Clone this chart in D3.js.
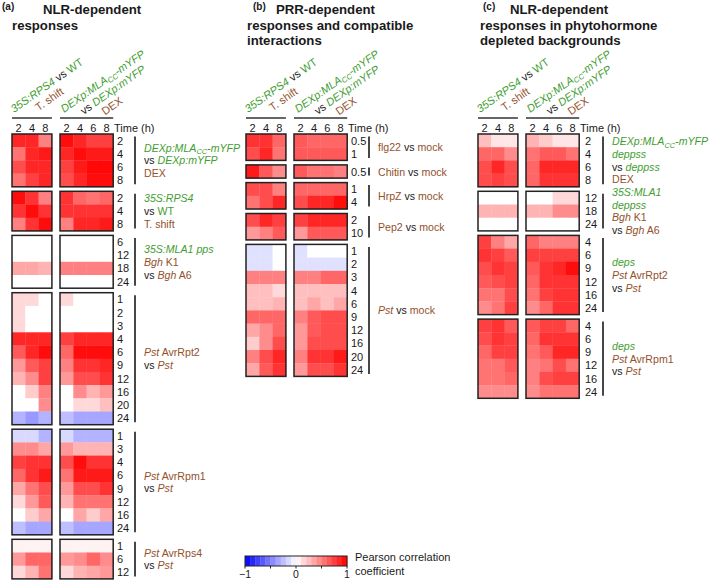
<!DOCTYPE html>
<html><head><meta charset="utf-8">
<script src="https://cdn.jsdelivr.net/npm/d3@7"></script>
<style>body{margin:0;background:#fff} text{font-family:"Liberation Sans",Arial,sans-serif;white-space:pre}</style>
</head><body><svg id="c" width="709" height="580"></svg>
<script>
const GREEN="#3f9d31", BROWN="#93512c", BLACK="#1a1a1a";
const timesLeft=["2","4","8"], timesRight=["2","4","6","8"];

// ---------- Panel (a) ----------
const aRows=[["2","4","6","8"],["2","4","8"],["6","12","18","24"],["1","2","3","4","6","9","12","16","20","24"],["1","3","4","6","9","12","16","24"],["1","6","12"]];
const aLeft=[
 [[0.85,0.85,0.5],[0.55,0.85,0.9],[0.7,0.85,0.85],[0.55,0.75,0.85]],
 [[0.95,0.8,0.5],[0.8,0.95,0.8],[0.5,0.8,0.95]],
 [[0,0,0],[0,0,0],[0.35,0.35,0.3],[0,0,0]],
 [[0.15,0.15,0],[0.15,0,0],[0.15,0,0],[0.85,0.85,0.85],[0.65,0.85,0.95],[0.4,0.65,0.75],[0.3,0.45,0.75],[0,0.2,0.5],[0,0,0.45],[-0.3,-0.4,-0.3]],
 [[-0.15,-0.15,-0.3],[0.45,0.45,0.35],[0.75,0.8,0.8],[0.6,0.8,0.9],[0.35,0.55,0.7],[0.15,0.4,0.65],[0,0.2,0.35],[-0.25,-0.35,-0.35]],
 [[0.05,0.05,0.05],[0.4,0.6,0.6],[0.15,0.3,0.55]]
];
const aRight=[
 [[0.95,0.85,0.75,0.75],[0.85,0.95,0.9,0.9],[0.75,0.9,0.97,0.97],[0.7,0.85,0.95,0.95]],
 [[0.8,0.6,0.55,0.6],[0.8,0.8,0.8,0.8],[0.5,0.85,0.85,0.9]],
 [[0,0,0,0],[0,0,0,0],[0.5,0.5,0.5,0.5],[0,0,0,0]],
 [[0.15,0,0,0],[0,0,0,0],[0,0,0,0],[0.75,0.85,0.85,0.85],[0.6,0.95,0.95,0.95],[0.5,0.8,0.8,0.85],[0.4,0.7,0.7,0.8],[0,0.45,0.3,0.4],[0,0.15,0.15,0.25],[-0.25,-0.35,-0.35,-0.35]],
 [[-0.15,-0.3,-0.3,-0.3],[0.4,0.3,0.3,0.3],[0.7,0.95,0.8,0.8],[0.55,0.9,0.9,0.9],[0.4,0.7,0.7,0.8],[0.3,0.55,0.55,0.55],[0,0.35,0.2,0.35],[-0.25,-0.35,-0.35,-0.35]],
 [[0.05,0.05,0.05,0.05],[0.4,0.45,0.6,0.45],[0.15,0.3,0.35,0.4]]
];
const aLabels=[
 [[["DEXp:MLA","gi"],["CC","gis"],["-mYFP","gi"]],[["vs ","k"],["DEXp:mYFP","gi"]],[["DEX","b"]]],
 [[["35S:RPS4","gi"]],[["vs ","k"],["WT","g"]],[["T. shift","b"]]],
 [[["35S:MLA1 pps","gi"]],[["Bgh","bi"],[" K1","b"]],[["vs ","k"],["Bgh","bi"],[" A6","b"]]],
 [[["Pst","bi"],[" AvrRpt2","b"]],[["vs ","k"],["Pst","bi"]]],
 [[["Pst","bi"],[" AvrRpm1","b"]],[["vs ","k"],["Pst","bi"]]],
 [[["Pst","bi"],[" AvrRps4","b"]],[["vs ","k"],["Pst","bi"]]]
];

// ---------- Panel (b) ----------
const bRows=[["0.5","1"],["0.5"],["1","4"],["2","10"],["1","2","3","4","6","9","12","16","20","24"]];
const bLeft=[
 [[0.8,0.8,0.6],[0.7,0.85,0.55]],
 [[0.9,0.65,0.45]],
 [[0.7,0.7,0.5],[0.55,0.7,0.85]],
 [[0.7,0.85,0.75],[0.4,0.5,0.65]],
 [[-0.12,-0.12,0],[-0.12,-0.12,0],[0.5,0.5,0.5],[0.25,0.25,0.15],[0.25,0.25,0.3],[0.6,0.6,0.6],[0.35,0.45,0.6],[0.2,0.45,0.7],[0.5,0.7,0.85],[0.35,0.65,0.8]]
];
const bRight=[
 [[0.65,0.6,0.6,0.6],[0.65,0.65,0.65,0.65]],
 [[0.65,0.55,0.55,0.5]],
 [[0.6,0.6,0.6,0.6],[0.7,0.85,0.85,0.95]],
 [[0.75,0.85,0.85,0.85],[0.4,0.65,0.65,0.65]],
 [[-0.12,0,0,0],[-0.12,-0.12,-0.12,-0.12],[0.5,0.5,0.6,0.6],[0.25,0.25,0.25,0.25],[0.25,0.35,0.25,0.35],[0.5,0.65,0.7,0.7],[0.4,0.65,0.7,0.7],[0.4,0.7,0.7,0.7],[0.5,0.8,0.8,0.9],[0.4,0.7,0.7,0.8]]
];
const bLabels=[
 [[["flg22","b"],[" vs ","k"],["mock","b"]]],
 [[["Chitin","b"],[" vs ","k"],["mock","b"]]],
 [[["HrpZ","b"],[" vs ","k"],["mock","b"]]],
 [[["Pep2","b"],[" vs ","k"],["mock","b"]]],
 [[["Pst","bi"],[" vs ","k"],["mock","b"]]]
];

// ---------- Panel (c) ----------
const cRows=[["2","4","6","8"],["12","18","24"],["4","6","9","12","16","24"],["4","6","9","12","16","24"]];
const cLeft=[
 [[0.25,0.1,0.1],[0.6,0.6,0.45],[0.7,0.85,0.7],[0.7,0.75,0.7]],
 [[0,0,0],[0.3,0.3,0.3],[0,0,0]],
 [[0.75,0.5,0.35],[0.8,0.75,0.65],[0.7,0.8,0.75],[0.65,0.7,0.75],[0.55,0.55,0.7],[0.45,0.55,0.75]],
 [[0.75,0.8,0.65],[0.7,0.8,0.75],[0.6,0.75,0.75],[0.55,0.55,0.65],[0.55,0.55,0.6],[0.45,0.45,0.45]]
];
const cRight=[
 [[0.3,0.2,0.1,0.1],[0.55,0.65,0.65,0.55],[0.6,0.85,0.85,0.85],[0.6,0.8,0.8,0.8]],
 [[0,0,0.15,0.15],[0.3,0.3,0.45,0.45],[0,0,0,0]],
 [[0.6,0.5,0.5,0.5],[0.75,0.75,0.75,0.75],[0.65,0.8,0.85,0.95],[0.6,0.8,0.8,0.8],[0.55,0.75,0.8,0.8],[0.45,0.6,0.8,0.8]],
 [[0.65,0.75,0.75,0.6],[0.6,0.8,0.8,0.8],[0.55,0.65,0.85,0.85],[0.5,0.55,0.7,0.55],[0.5,0.7,0.75,0.75],[0.45,0.55,0.55,0.55]]
];
const cLabels=[
 [[["DEXp:MLA","gi"],["CC","gis"],["-mYFP","gi"]],[["deppss","gi"]],[["vs ","k"],["deppss","gi"]],[["DEX","b"]]],
 [[["35S:MLA1","gi"]],[["deppss","gi"]],[["Bgh","bi"],[" K1","b"]],[["vs ","k"],["Bgh","bi"],[" A6","b"]]],
 [[["deps","gi"]],[["Pst","bi"],[" AvrRpt2","b"]],[["vs ","k"],["Pst","bi"]]],
 [[["deps","gi"]],[["Pst","bi"],[" AvrRpm1","b"]],[["vs ","k"],["Pst","bi"]]]
];

// header labels over the two heatmap columns
const headerLeft=[[["35S:RPS4","gi"],[" vs ","k"],["WT","g"]],[["T. shift","b"]]];
const headerRight=[[["DEXp:MLA","gi"],["CC","gis"],["-mYFP","gi"]],[["vs ","k"],["DEXp:mYFP","gi"]],[["DEX","b"]]];
const legendTicks=[-1,0,1];

const panels=[
 {x0:12, rl:105, tag:"(a)", tagX:2, title:["NLR-dependent","responses"], titleX:[43,12], rows:aRows, L:aLeft, R:aRight, labels:aLabels},
 {x0:246, rl:105, tag:"(b)", tagX:253, title:["PRR-dependent","responses and compatible","interactions"], titleX:[276,247,247], rows:bRows, L:bLeft, R:bRight, labels:bLabels},
 {x0:478, rl:107, tag:"(c)", tagX:483, title:["NLR-dependent","responses in phytohormone","depleted backgrounds"], titleX:[510,480,480], rows:cRows, L:cLeft, R:cRight, labels:cLabels}
];

const svg=d3.select("#c");
const color=d3.scaleLinear().domain([-1,0,1]).range(["#0000ff","#ffffff","#ff0000"]);
const STY={g:GREEN,b:BROWN,k:BLACK};
const rowH=13.2, gapY=4.5, cellW=13.3, topY=134, rightOff=48;

function rich(sel, segs){
  let prevSub=false;
  segs.forEach(([t,s])=>{
    const ts=sel.append("tspan").text(t).attr("fill",STY[s[0]]);
    if(s.includes("i")) ts.attr("font-style","italic");
    const sub=s.includes("s");
    if(sub){ ts.attr("font-size","0.7em").attr("dy",2.2); }
    else if(prevSub){ ts.attr("dy",-2.2); }
    prevSub=sub;
  });
}

panels.forEach(p=>{
  const g=svg.append("g");
  g.append("text").attr("x",p.tagX).attr("y",10).attr("font-size",10).attr("font-weight","bold").attr("fill",BLACK).text(p.tag);
  p.title.forEach((t,i)=>g.append("text").attr("x",p.titleX[i]).attr("y",14+i*15.5).attr("font-size",13.2).attr("font-weight","bold").attr("fill",BLACK).text(t));

  const xL=d3.scaleBand().domain(timesLeft).range([p.x0,p.x0+3*cellW]);
  const xR=d3.scaleBand().domain(timesRight).range([p.x0+rightOff,p.x0+rightOff+4*cellW]);

  [[xL,headerLeft,[0,21],2],[xR,headerRight,[0,15,32],4]].forEach(([xs,lines,ind,dx])=>{
    const r=xs.range();
    g.append("line").attr("x1",r[0]).attr("x2",r[1]).attr("y1",118).attr("y2",118).attr("stroke","#333").attr("stroke-width",1.5);
    const hg=g.append("g").attr("transform",`translate(${r[0]+dx},113) rotate(-35)`);
    lines.forEach((segs,i)=>{
      const t=hg.append("text").attr("x",ind[i]).attr("y",i*12.8).attr("font-size",11);
      rich(t,segs);
    });
    g.selectAll(null).data(xs.domain()).join("text")
      .attr("x",d=>xs(d)+xs.bandwidth()/2).attr("y",132).attr("text-anchor","middle")
      .attr("font-size",11).attr("fill",BLACK).text(d=>d);
  });
  g.append("text").attr("x",p.x0+102).attr("y",132).attr("font-size",11).attr("fill",BLACK).text("Time (h)");

  let y=topY;
  p.rows.forEach((rows,bi)=>{
    const h=rows.length*rowH;
    const ys=d3.scaleBand().domain(rows).range([y,y+h]);
    [[xL,p.L[bi],timesLeft],[xR,p.R[bi],timesRight]].forEach(([xs,vals,cols])=>{
      const cells=[];
      rows.forEach((r,ri)=>cols.forEach((c,ci)=>cells.push({r,c,v:vals[ri][ci]})));
      g.append("g").selectAll("rect").data(cells).join("rect")
        .attr("x",d=>xs(d.c)).attr("y",d=>ys(d.r))
        .attr("width",xs.bandwidth()+0.3).attr("height",ys.bandwidth()+0.3)
        .attr("fill",d=>color(d.v));
      const r=xs.range();
      g.append("rect").attr("x",r[0]).attr("y",y).attr("width",r[1]-r[0]).attr("height",h)
        .attr("fill","none").attr("stroke","#222").attr("stroke-width",1.5);
    });
    g.selectAll(null).data(rows).join("text")
      .attr("x",p.x0+p.rl).attr("y",d=>ys(d)+ys.bandwidth()/2+4)
      .attr("font-size",11).attr("fill",BLACK).text(d=>d);
    g.append("line").attr("x1",p.x0+p.rl+18).attr("x2",p.x0+p.rl+18).attr("y1",y+2.5).attr("y2",y+h-2.5)
      .attr("stroke","#333").attr("stroke-width",1.8);
    const lines=p.labels[bi], lh=12.7, cy=y+h/2;
    lines.forEach((segs,i)=>{
      const t=g.append("text").attr("x",p.x0+p.rl+27).attr("y",cy+(i-(lines.length-1)/2)*lh+4).attr("font-size",10.6);
      rich(t,segs);
    });
    y+=h+gapY;
  });
});

// legend
const lx=d3.scaleLinear().domain([-1,1]).range([245,347]);
const steps=d3.range(-1,1,0.1);
const lg=svg.append("g");
lg.selectAll("rect").data(steps).join("rect")
  .attr("x",d=>lx(d)).attr("y",556).attr("width",lx(0.1)-lx(0)+0.3).attr("height",10)
  .attr("fill",d=>color(d+0.05));
lg.append("rect").attr("x",245).attr("y",556).attr("width",102).attr("height",10).attr("fill","none").attr("stroke","#222").attr("stroke-width",1);
lg.selectAll("line.tk").data([-1,-0.5,0,0.5,1]).join("line")
  .attr("x1",d=>lx(d)).attr("x2",d=>lx(d)).attr("y1",566).attr("y2",568.5).attr("stroke","#222").attr("stroke-width",1);
lg.selectAll("text.tl").data(legendTicks).join("text")
  .attr("x",d=>lx(d)).attr("y",578).attr("text-anchor","middle").attr("font-size",10.5).attr("fill",BLACK)
  .text(d=>d===-1?"\u22121":String(d));
lg.append("text").attr("x",355).attr("y",561).attr("font-size",11).attr("fill",BLACK).text("Pearson correlation");
lg.append("text").attr("x",355).attr("y",575).attr("font-size",11).attr("fill",BLACK).text("coefficient");
</script></body></html>
